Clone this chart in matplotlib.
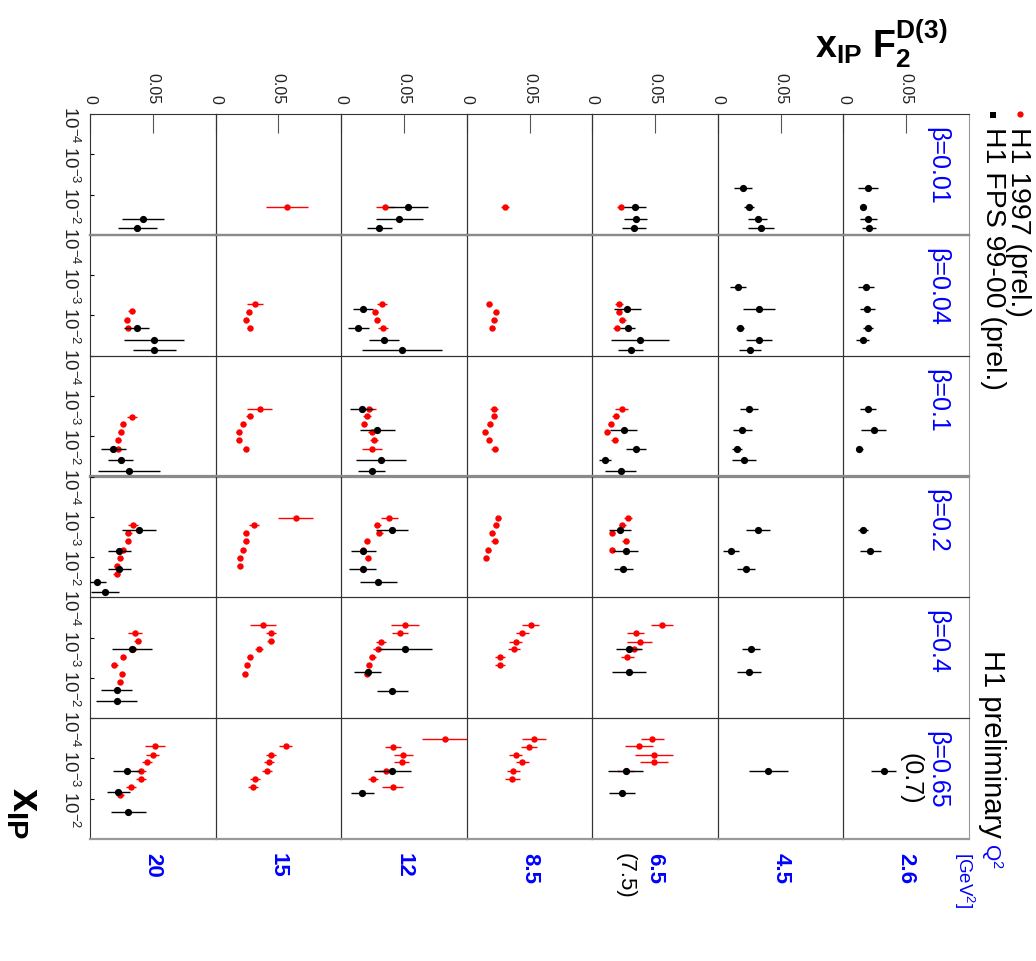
import matplotlib
matplotlib.use('Agg')
import matplotlib.pyplot as plt

plt.rcParams['font.family'] = ['Liberation Sans', 'DejaVu Sans']
plt.rcParams['mathtext.fontset'] = 'custom'
plt.rcParams['mathtext.rm'] = 'Liberation Sans'
plt.rcParams['mathtext.it'] = 'Liberation Sans:italic'
plt.rcParams['mathtext.bf'] = 'Liberation Sans:bold'

# ---------------- categories ----------------
betas = [0.01, 0.04, 0.1, 0.2, 0.4, 0.65]
beta_labels = ['β=0.01', 'β=0.04', 'β=0.1', 'β=0.2', 'β=0.4', 'β=0.65']
q2_values = [20, 15, 12, 8.5, 6.5, 4.5, 2.6]
q2_labels = ['20', '15', '12', '8.5', '6.5', '4.5', '2.6']

# ---------------- H1 1997 (prel.) : red ----------------
h97_beta = [0.01, 0.01, 0.01, 0.01,
            0.04, 0.04, 0.04, 0.04, 0.04,
            0.1, 0.1, 0.1, 0.1, 0.1,
            0.2, 0.2, 0.2, 0.2, 0.2,
            0.4, 0.4, 0.4, 0.4, 0.4,
            0.65, 0.65, 0.65, 0.65, 0.65]
h97_q2 = [15, 12, 8.5, 6.5,
          20, 15, 12, 8.5, 6.5,
          20, 15, 12, 8.5, 6.5,
          20, 15, 12, 8.5, 6.5,
          20, 15, 12, 8.5, 6.5,
          20, 15, 12, 8.5, 6.5]
h97_xpom = [
    [0.0206], [0.0206], [0.0206], [0.0206],
    [0.0077, 0.0128, 0.0206],
    [0.0051, 0.0081, 0.0128, 0.0206],
    [0.0051, 0.0081, 0.0128, 0.0206],
    [0.0051, 0.0081, 0.0128, 0.0206],
    [0.0051, 0.0081, 0.0128, 0.0206],
    [0.0033, 0.0051, 0.0080, 0.0126, 0.0206],
    [0.0021, 0.0032, 0.0051, 0.0080, 0.0126, 0.0206],
    [0.0021, 0.0032, 0.0051, 0.0080, 0.0126, 0.0206],
    [0.0021, 0.0032, 0.0051, 0.0080, 0.0126, 0.0206],
    [0.0021, 0.0032, 0.0051, 0.0080, 0.0126],
    [0.00164, 0.0025, 0.0040, 0.0067, 0.0104, 0.0167, 0.0269],
    [0.00106, 0.00164, 0.0025, 0.0040, 0.0067, 0.0104, 0.0167],
    [0.00106, 0.00161, 0.0025, 0.0040, 0.0065, 0.0104],
    [0.00106, 0.00161, 0.0025, 0.0040, 0.0065, 0.0104],
    [0.00106, 0.00161, 0.0025, 0.0040, 0.0067],
    [0.00077, 0.00123, 0.0019, 0.0030, 0.0049, 0.0078, 0.0126],
    [0.00048, 0.00077, 0.00123, 0.0019, 0.0030, 0.0049, 0.0078],
    [0.00049, 0.00078, 0.00126, 0.00195, 0.0031, 0.0049, 0.0081],
    [0.00049, 0.00078, 0.00126, 0.00195, 0.0031, 0.0049],
    [0.00049, 0.00078, 0.00126, 0.00195, 0.0031],
    [0.0005, 0.00081, 0.00126, 0.0021, 0.00325, 0.0052, 0.0081],
    [0.0005, 0.00081, 0.00126, 0.0021, 0.00325, 0.0052],
    [0.00033, 0.00051, 0.00081, 0.00126, 0.0021, 0.00325, 0.0052],
    [0.00033, 0.00051, 0.00081, 0.00126, 0.0021, 0.00325],
    [0.00033, 0.00049, 0.00081, 0.00126, 0.0021],
]
h97_f2 = [
    [0.057], [0.035], [0.0305], [0.0225],
    [0.0332, 0.0292, 0.0305],
    [0.0313, 0.0265, 0.0244, 0.0271],
    [0.0324, 0.0271, 0.0289, 0.0332],
    [0.0178, 0.0231, 0.0218, 0.0204],
    [0.0212, 0.0212, 0.0239, 0.0194],
    [0.0337, 0.026, 0.0244, 0.0225, 0.0225],
    [0.035, 0.0271, 0.022, 0.0186, 0.0186, 0.0239],
    [0.0218, 0.0204, 0.0183, 0.0244, 0.0263, 0.0244],
    [0.0218, 0.0218, 0.0183, 0.0146, 0.0178, 0.0223],
    [0.0233, 0.0186, 0.0146, 0.0119, 0.0178],
    [0.0345, 0.0305, 0.030, 0.0265, 0.0239, 0.0212, 0.0212],
    [0.0637, 0.0305, 0.0239, 0.0239, 0.022, 0.0191, 0.0191],
    [0.0385, 0.0289, 0.0305, 0.0204, 0.0178, 0.021],
    [0.0252, 0.0231, 0.0204, 0.0223, 0.0172, 0.0156],
    [0.0284, 0.0239, 0.0159, 0.0265, 0.0159],
    [0.0358, 0.0379, 0.0345, 0.0265, 0.0194, 0.0257, 0.0239],
    [0.0377, 0.0438, 0.0438, 0.0345, 0.0271, 0.0252, 0.0233],
    [0.0509, 0.047, 0.0316, 0.0297, 0.0249, 0.0218, 0.0204],
    [0.0509, 0.0443, 0.039, 0.0377, 0.0265, 0.0263],
    [0.0557, 0.0345, 0.0379, 0.0332, 0.0279],
    [0.0517, 0.0499, 0.0456, 0.0406, 0.0406, 0.0324, 0.0239],
    [0.0557, 0.0438, 0.0424, 0.0411, 0.0313, 0.030],
    [0.0828, 0.0416, 0.0496, 0.0483, 0.0358, 0.0257, 0.0411],
    [0.0536, 0.0496, 0.039, 0.0443, 0.0371, 0.0363],
    [0.0477, 0.0371, 0.0491, 0.0491, 0.0265],
]
h97_err = [
    [0.017], [0.007], [0.003], [0.003],
    [0.003, 0.002, 0.002],
    [0.0066, 0.002, 0.002, 0.002],
    [0.004, 0.002, 0.002, 0.004],
    [0.002, 0.002, 0.002, 0.002],
    [0.003, 0.002, 0.003, 0.003],
    [0.004, 0.002, 0.002, 0.002, 0.002],
    [0.0097, 0.003, 0.002, 0.002, 0.002, 0.002],
    [0.006, 0.003, 0.002, 0.003, 0.003, 0.008],
    [0.003, 0.002, 0.002, 0.002, 0.002, 0.003],
    [0.005, 0.003, 0.002, 0.002, 0.003],
    [0.004, 0.003, 0.002, 0.002, 0.002, 0.002, 0.003],
    [0.0142, 0.004, 0.002, 0.002, 0.002, 0.002, 0.002],
    [0.007, 0.003, 0.003, 0.002, 0.002, 0.002],
    [0.002, 0.002, 0.002, 0.003, 0.002, 0.002],
    [0.003, 0.003, 0.002, 0.003, 0.002],
    [0.0053, 0.003, 0.003, 0.002, 0.003, 0.002, 0.002],
    [0.0106, 0.004, 0.003, 0.003, 0.002, 0.002, 0.002],
    [0.0113, 0.0066, 0.004, 0.004, 0.003, 0.002, 0.002],
    [0.007, 0.005, 0.005, 0.005, 0.004, 0.004],
    [0.0088, 0.0066, 0.010, 0.005, 0.005],
    [0.0082, 0.005, 0.004, 0.004, 0.004, 0.004, 0.003],
    [0.005, 0.004, 0.004, 0.004, 0.004, 0.004],
    [0.0186, 0.0064, 0.0077, 0.006, 0.006, 0.004, 0.0082],
    [0.0093, 0.0066, 0.005, 0.005, 0.005, 0.006],
    [0.0093, 0.011, 0.015, 0.0109, 0.0066],
]

# ---------------- H1 FPS 99-00 (prel.) : black ----------------
fps_beta = [0.01, 0.01, 0.01, 0.01, 0.01,
            0.04, 0.04, 0.04, 0.04, 0.04,
            0.1, 0.1, 0.1, 0.1, 0.1,
            0.2, 0.2, 0.2, 0.2, 0.2,
            0.4, 0.4, 0.4, 0.4,
            0.65, 0.65, 0.65, 0.65, 0.65]
fps_q2 = [20, 12, 6.5, 4.5, 2.6,
          20, 12, 6.5, 4.5, 2.6,
          20, 12, 6.5, 4.5, 2.6,
          20, 12, 6.5, 4.5, 2.6,
          20, 12, 6.5, 4.5,
          20, 12, 6.5, 4.5, 2.6]
fps_xpom = [
    [0.040, 0.068],
    [0.0206, 0.040, 0.068],
    [0.0206, 0.040, 0.068],
    [0.0070, 0.0206, 0.040, 0.068],
    [0.0070, 0.0206, 0.040, 0.068],
    [0.0206, 0.040, 0.071],
    [0.0070, 0.0206, 0.040, 0.071],
    [0.0070, 0.0206, 0.040, 0.071],
    [0.0020, 0.0070, 0.0206, 0.040, 0.071],
    [0.0020, 0.0070, 0.0206, 0.040],
    [0.0206, 0.0394, 0.071],
    [0.0021, 0.0071, 0.040, 0.071],
    [0.0071, 0.0206, 0.040, 0.071],
    [0.0021, 0.0071, 0.0206, 0.040],
    [0.0021, 0.0071, 0.0206],
    [0.0021, 0.0071, 0.0202, 0.0417, 0.0724],
    [0.0021, 0.0071, 0.0202, 0.0417],
    [0.0021, 0.0071, 0.0202],
    [0.0021, 0.0071, 0.0202],
    [0.0021, 0.0071],
    [0.0019, 0.0195, 0.0379],
    [0.00195, 0.0070, 0.0206],
    [0.00195, 0.0070],
    [0.00195, 0.0070],
    [0.0021, 0.0070, 0.021],
    [0.0021, 0.0074],
    [0.0021, 0.0074],
    [0.0021],
    [0.0021],
]
fps_f2 = [
    [0.0419, 0.0377],
    [0.0536, 0.0464, 0.0305],
    [0.034, 0.0345, 0.0332],
    [0.0199, 0.0247, 0.0318, 0.0345],
    [0.0199, 0.0159, 0.0199, 0.0207],
    [0.0371, 0.0512, 0.0512],
    [0.0172, 0.0138, 0.0342, 0.0483],
    [0.0279, 0.0284, 0.0379, 0.0305],
    [0.0159, 0.0326, 0.0175, 0.0326, 0.0255],
    [0.018, 0.0191, 0.0199, 0.0154],
    [0.0186, 0.0244, 0.0313],
    [0.0164, 0.0289, 0.0318, 0.0244],
    [0.0252, 0.0345, 0.0101, 0.0225],
    [0.0249, 0.0196, 0.0151, 0.021],
    [0.0196, 0.0241, 0.0127],
    [0.0393, 0.0233, 0.0233, 0.0058, 0.0119],
    [0.0403, 0.0178, 0.0172, 0.0297],
    [0.022, 0.0265, 0.0247],
    [0.0321, 0.0103, 0.0223],
    [0.0156, 0.0215],
    [0.0332, 0.0212, 0.0212],
    [0.0509, 0.021, 0.0408],
    [0.0292, 0.0292],
    [0.0263, 0.0249],
    [0.0292, 0.0225, 0.0305],
    [0.0408, 0.017],
    [0.0265, 0.0239],
    [0.0403],
    [0.0321],
]
fps_err = [
    [0.0168, 0.0157],
    [0.0159, 0.0186, 0.0103],
    [0.0086, 0.0092, 0.0093],
    [0.0073, 0.004, 0.0076, 0.0102],
    [0.008, 0.002, 0.0066, 0.0056],
    [0.010, 0.0239, 0.0172],
    [0.008, 0.008, 0.0122, 0.0318],
    [0.0106, 0.006, 0.023, 0.0097],
    [0.0066, 0.0129, 0.003, 0.0102, 0.0086],
    [0.006, 0.006, 0.004, 0.0053],
    [0.010, 0.010, 0.0248],
    [0.009, 0.0139, 0.0196, 0.0106],
    [0.0107, 0.008, 0.005, 0.012],
    [0.0072, 0.0072, 0.004, 0.0097],
    [0.0064, 0.010, 0.003],
    [0.0135, 0.009, 0.0093, 0.0066, 0.011],
    [0.0126, 0.0098, 0.0109, 0.0146],
    [0.0086, 0.0097, 0.0076],
    [0.0095, 0.0066, 0.0069],
    [0.004, 0.0086],
    [0.0159, 0.0125, 0.0162],
    [0.0212, 0.0109, 0.0126],
    [0.010, 0.0133],
    [0.0073, 0.0098],
    [0.0109, 0.0093, 0.0137],
    [0.0149, 0.0089],
    [0.0137, 0.0102],
    [0.0153],
    [0.010],
]

# ---------------- layout ----------------
W, H = 1036, 961
fig = plt.figure(figsize=(W / 100, H / 100), dpi=100)

GX0, GX1, GY0, GY1 = 90, 969, 114, 839
ncol, nrow = len(q2_values), len(betas)
cw = (GX1 - GX0) / ncol
rh = (GY1 - GY0) / nrow


def fx(x):
    return x / W


def fy(y):
    return 1 - y / H


axes = {}
for i, b in enumerate(betas):
    for j, q in enumerate(q2_values):
        ax = fig.add_axes([fx(GX0 + j * cw), fy(GY0 + (i + 1) * rh), cw / W, rh / H])
        ax.set_xlim(0, 0.1)
        ax.set_yscale('log')
        ax.set_ylim(1e-1, 1e-4)
        ax.minorticks_off()
        for s in ax.spines.values():
            s.set_color('#333333')
            s.set_linewidth(0.8)
        if i in (0, 2):
            ax.spines['bottom'].set_color('#8a8a8a')
            ax.spines['bottom'].set_linewidth(1.6)
        if i in (1, 3):
            ax.spines['top'].set_color('#8a8a8a')
            ax.spines['top'].set_linewidth(1.6)
        if i == nrow - 1:
            ax.spines['bottom'].set_color('#999999')
            ax.spines['bottom'].set_linewidth(1.6)
        if j == ncol - 1:
            ax.spines['right'].set_color('#999999')
        # x (F2) axis ticks on top of the first row only
        ax.xaxis.tick_top()
        if i == 0:
            ax.set_xticks([0, 0.05])
            ax.set_xticklabels(['0', '0.05'])
            ax.tick_params(axis='x', direction='in', length=14, width=0.8,
                           color='#555555', labelrotation=-90, labelsize=11.5,
                           pad=7, labelcolor='#222222')
        else:
            ax.set_xticks([])
        # y (x_IP) axis labels in the first column only
        if j == 0:
            ax.set_yticks([1e-4, 1e-3, 1e-2])
            ax.set_yticklabels([r'$10^{-4}$', r'$10^{-3}$', r'$10^{-2}$'])
            ax.tick_params(axis='y', direction='in', length=3, width=0.8,
                           labelrotation=-90, labelsize=13.5, pad=7,
                           labelcolor='#222222')
        else:
            ax.set_yticks([])
        ax.patch.set_alpha(0)
        axes[(b, q)] = ax

for b, q, xs, fs, es in zip(h97_beta, h97_q2, h97_xpom, h97_f2, h97_err):
    axes[(b, q)].errorbar(fs, xs, xerr=es, fmt='o', color='red', ms=4.6,
                          mew=0, elinewidth=1.0, capsize=2, capthick=1.0,
                          zorder=3, clip_on=True)

for b, q, xs, fs, es in zip(fps_beta, fps_q2, fps_xpom, fps_f2, fps_err):
    axes[(b, q)].errorbar(fs, xs, xerr=es, fmt='o', color='black', ms=5.2,
                          mew=0, elinewidth=1.0, capsize=2, capthick=1.0,
                          zorder=4, clip_on=True)

# ---------------- texts ----------------
for i, lab in enumerate(beta_labels):
    fig.text(fx(937), fy(GY0 + i * rh + 13), lab, rotation=-90, color='blue',
             fontsize=18, ha='center', va='top')
fig.text(fx(910), fy(753), '(0.7)', rotation=-90, color='black',
         fontsize=18, ha='center', va='top')

for j, lab in enumerate(q2_labels):
    fig.text(fx(GX0 + (j + 0.5) * cw), fy(853), lab, rotation=-90,
             color='blue', fontsize=16, fontweight='bold', ha='center', va='top')
fig.text(fx(GX0 + 4.5 * cw - 30), fy(853), '(7.5)', rotation=-90,
         color='black', fontsize=16, ha='center', va='top')
fig.text(fx(992), fy(843), r'Q$^{2}$', rotation=-90, color='blue',
         fontsize=15, ha='center', va='top')
fig.text(fx(964), fy(852), r'[GeV$^{2}$]', rotation=-90, color='blue',
         fontsize=13.5, ha='center', va='top')

fig.text(fx(815), fy(44), r'$\mathbf{x_{IP}\ F_2^{D(3)}}$', color='black',
         fontsize=27, ha='left', va='center')
fig.text(fx(24), fy(839), r'$\mathbf{x_{IP}}$', rotation=-90, color='black',
         fontsize=30, ha='center', va='bottom')

fig.text(fx(992), fy(838), 'H1 preliminary', rotation=-90, color='black',
         fontsize=21, ha='center', va='bottom')

# legend (drawn rotated like the rest of the figure)
lax = fig.add_axes([0, 0, 1, 1])
lax.set_xlim(0, W)
lax.set_ylim(H, 0)
lax.axis('off')
lax.plot([1020], [114], 'o', color='red', ms=4.5, mew=0)
lax.plot([993], [115], 's', color='black', ms=4.5, mew=0)
fig.text(fx(1018), fy(127), 'H1 1997 (prel.)', rotation=-90, color='black',
         fontsize=20.5, ha='center', va='top')
fig.text(fx(993), fy(127), 'H1 FPS 99-00 (prel.)', rotation=-90, color='black',
         fontsize=20.5, ha='center', va='top')

fig.savefig('out.png', dpi=100)
